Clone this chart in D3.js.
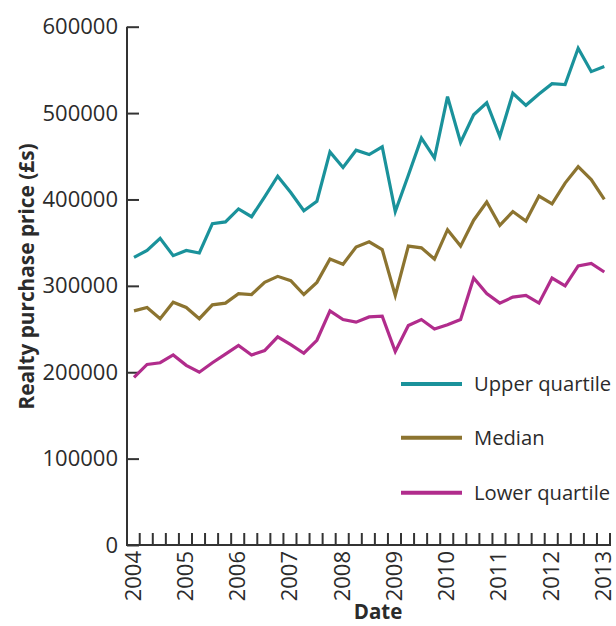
<!DOCTYPE html>
<html>
<head>
<meta charset="utf-8">
<script src="https://cdn.jsdelivr.net/npm/d3@7"></script>
<style>
  html, body { margin: 0; padding: 0; background: #fff; }
  svg { display: block; }
  text { font-family: "Open Sans", sans-serif; fill: #2b2b2b; }
</style>
</head>
<body>
<svg id="chart" width="616" height="626"></svg>
<script>
// ---- Data (quarterly, 2004 Q1 .. 2013 Q1) ----
const startYear = 2004;
const yearTicks = [2004, 2005, 2006, 2007, 2008, 2009, 2010, 2011, 2012, 2013];
const yTicks = [0, 100000, 200000, 300000, 400000, 500000, 600000];

const upperQuartile = [
  333000, 341000, 355000, 335000, 341000, 338000, 372000, 374000, 389000, 380000,
  403000, 427000, 408000, 387000, 398000, 455000, 437000, 457000, 452000, 461000,
  386000, 428000, 471000, 448000, 519000, 466000, 498000, 512000, 473000, 523000,
  509000, 522000, 534000, 533000, 575000, 548000, 554000
];
const median = [
  271000, 275000, 262000, 281000, 275000, 262000, 278000, 280000, 291000, 290000,
  304000, 311000, 306000, 290000, 304000, 331000, 325000, 345000, 351000, 342000,
  289000, 346000, 344000, 331000, 365000, 346000, 376000, 397000, 370000, 386000,
  375000, 404000, 395000, 419000, 438000, 423000, 400000
];
const lowerQuartile = [
  194000, 209000, 211000, 220000, 208000, 200000, 211000, 221000, 231000, 220000,
  225000, 241000, 232000, 222000, 237000, 271000, 261000, 258000, 264000, 265000,
  224000, 254000, 261000, 250000, 255000, 261000, 309000, 291000, 280000, 287000,
  289000, 280000, 309000, 300000, 323000, 326000, 316000
];

const seriesNames = ["Upper quartile", "Median", "Lower quartile"];
const seriesData = [upperQuartile, median, lowerQuartile];
const seriesColors = ["#1a929b", "#8c7430", "#b12c8c"];

// ---- Layout ----
const svg = d3.select("#chart");
const axisX0 = 127, axisX1 = 611;
const plotTop = 26.7, plotBottom = 545;

const x = d3.scaleLinear().domain([2004, 2013]).range([134, 604.3]);
const y = d3.scaleLinear().domain([0, 600000]).range([plotBottom, plotTop]);

const axisColor = "#333";
const tickFont = 22;

// Y axis (ticks pointing inward)
const yAxisG = svg.append("g")
  .attr("transform", `translate(${axisX0},0)`)
  .call(d3.axisLeft(y).tickValues(yTicks).tickSizeInner(-12).tickSizeOuter(0).tickPadding(9).tickFormat(d3.format("d")));
yAxisG.select(".domain").remove();
yAxisG.selectAll(".tick line").attr("stroke", axisColor).attr("stroke-width", 2);
yAxisG.selectAll(".tick text").attr("font-size", tickFont).attr("font-family", "Open Sans").attr("fill", "#2b2b2b");

// Quarterly minor ticks on x axis
const quarterTicks = d3.range(0, 37).map(k => startYear + 0.1 + k * 0.25);
const xAxisG = svg.append("g")
  .attr("transform", `translate(0,${plotBottom})`)
  .call(d3.axisBottom(x).tickValues(quarterTicks).tickSizeInner(-12).tickSizeOuter(0).tickFormat(""));
xAxisG.select(".domain").remove();
xAxisG.selectAll(".tick line").attr("stroke", axisColor).attr("stroke-width", 2);

// Year labels (rotated)
const yearG = svg.append("g")
  .attr("transform", `translate(0,${plotBottom})`)
  .call(d3.axisBottom(x).tickValues(yearTicks).tickSize(0).tickFormat(d3.format("d")));
yearG.select(".domain").remove();
yearG.selectAll(".tick text")
  .attr("transform", "rotate(-90)")
  .attr("text-anchor", "end")
  .attr("x", -6).attr("y", 0).attr("dy", "0.28em")
  .attr("font-size", tickFont).attr("font-family", "Open Sans").attr("fill", "#2b2b2b");

// Axis lines (L-shape)
svg.append("path")
  .attr("d", `M${axisX0},${plotTop}V${plotBottom}H${axisX1}`)
  .attr("fill", "none").attr("stroke", axisColor).attr("stroke-width", 2);

// Lines
const line = d3.line()
  .x((d, i) => x(startYear + i * 0.25))
  .y(d => y(d))
  .curve(d3.curveLinear);

seriesData.forEach((s, k) => {
  svg.append("path")
    .datum(s)
    .attr("d", line)
    .attr("fill", "none")
    .attr("stroke", seriesColors[k])
    .attr("stroke-width", 3.2)
    .attr("stroke-linejoin", "miter");
});

// Legend
const legendY = [384, 437.7, 492.7];
seriesNames.forEach((name, k) => {
  svg.append("line")
    .attr("x1", 401).attr("x2", 462)
    .attr("y1", legendY[k]).attr("y2", legendY[k])
    .attr("stroke", seriesColors[k]).attr("stroke-width", 4);
  svg.append("text")
    .attr("x", 474).attr("y", legendY[k])
    .attr("dy", "0.35em")
    .attr("font-size", 20.2)
    .text(name);
});

// Axis titles
svg.append("text")
  .attr("transform", `translate(34,276.5) rotate(-90)`)
  .attr("text-anchor", "middle")
  .attr("font-size", 20.8).attr("font-weight", "bold")
  .text("Realty purchase price (£s)");

svg.append("text")
  .attr("x", 378).attr("y", 619)
  .attr("text-anchor", "middle")
  .attr("font-size", 20.5).attr("font-weight", "bold")
  .text("Date");
</script>
</body>
</html>
